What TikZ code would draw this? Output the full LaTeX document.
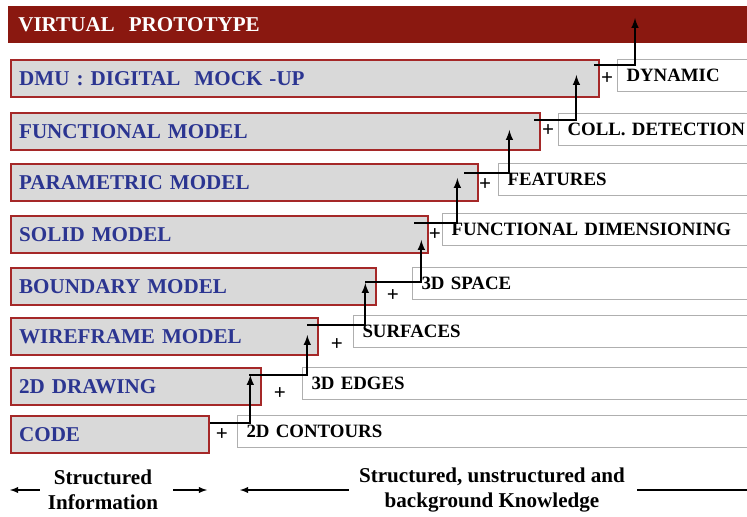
\documentclass[tikz,border=0pt]{standalone}
\usepackage{fontspec}
\setmainfont{Liberation Serif}
\usetikzlibrary{calc}
\definecolor{barred}{RGB}{138,24,16}
\definecolor{boxred}{RGB}{165,40,40}
\definecolor{boxgrey}{RGB}{217,217,217}
\definecolor{txtblue}{RGB}{43,53,145}
\definecolor{linegrey}{RGB}{175,175,175}
\begin{document}
\begin{tikzpicture}[x=0.025cm,y=-0.025cm,
    model/.style={draw=boxred,fill=boxgrey,line width=1.6pt,anchor=north west,
      minimum height=0.925cm,inner xsep=0.2cm,align=left,text width=#1,
      text=txtblue,font=\fontsize{15}{18}\selectfont\bfseries},
    extra/.style={draw=linegrey,fill=white,line width=1pt,anchor=north west,
      minimum height=0.8cm,inner xsep=0.22cm,align=left,text width=22cm,
      font=\fontsize{13.4}{16}\selectfont\bfseries},
    plus/.style={font=\fontsize{15}{18}\selectfont\bfseries},
    note/.style={align=center,inner sep=0pt,font=\fontsize{15}{18}\selectfont\bfseries}]
      \useasboundingbox (0,0) rectangle (747,517);
      \clip (0,0) rectangle (747,517);
      \path
        (8,6) node[anchor=north west,fill=barred,text=white,minimum height=0.925cm,
          inner xsep=0.25cm,align=left,text width=18.5cm,
          font=\fontsize{15}{18}\selectfont\bfseries] (vp){VIRTUAL~~PROTOTYPE}
        (10,59) node[model=14.3cm] (dmu){DMU : DIGITAL~ MOCK -UP}
        (10,112) node[model=12.825cm] (func){FUNCTIONAL MODEL}
        (10,163) node[model=11.275cm] (param){PARAMETRIC MODEL}
        (10,215) node[model=10.025cm] (solid){SOLID MODEL}
        (10,267) node[model=8.725cm] (bound){BOUNDARY MODEL}
        (10,317) node[model=7.275cm] (wire){WIREFRAME MODEL}
        (10,367) node[model=5.85cm] (drawing){2D DRAWING}
        (10,415) node[model=4.55cm] (code){CODE};
      \path
        (617,59) node[extra] (dyn){DYNAMIC}
        (558,113) node[extra] (coll){COLL. DETECTION}
        (498,163) node[extra] (feat){FEATURES}
        (442,213) node[extra] (fdim){FUNCTIONAL DIMENSIONING}
        (412,267) node[extra] (space){3D SPACE}
        (353,315) node[extra] (surf){SURFACES}
        (302,367) node[extra] (edges){3D EDGES}
        (237,415) node[extra] (contours){2D CONTOURS};
      \path
        (222,435) node[plus] (p1){+}
        (280,394) node[plus] (p2){+}
        (337,345) node[plus] (p3){+}
        (393,296) node[plus] (p4){+}
        (435,235) node[plus] (p5){+}
        (485,185) node[plus] (p6){+}
        (548,131) node[plus] (p7){+}
        (607,79) node[plus] (p8){+};
      \begin{scope}[->,>=latex,line width=1.4pt]
        \draw ($(code.north east)+(0,8)$) -| ($(drawing.north east)+(-12,8)$);
        \draw ($(drawing.north east)+(-13,8)$) -| ($(wire.north east)+(-12,18)$);
        \draw ($(wire.north east)+(-12,8)$) -| ($(bound.north east)+(-12,16)$);
        \draw ($(bound.north east)+(-12,15)$) -| ($(solid.north east)+(-8,25)$);
        \draw ($(solid.north east)+(-15,8)$) -| ($(param.north east)+(-22,15)$);
        \draw ($(param.north east)+(-15,10)$) -| ($(func.north east)+(-32,18)$);
        \draw ($(func.north east)+(-7,8)$) -| ($(dmu.north east)+(-24,16)$);
        \draw ($(dmu.north east)+(-6,6)$) -| ($(vp.north west)+(627,12)$);
      \end{scope}
      \path
        (103,490) node[note] (info){Structured\\Information}
        (492,490) node[note] (know){Structured, unstructured and\\background Knowledge};
      \coordinate (il) at (10,490);
      \coordinate (ir) at (207,490);
      \coordinate (kl) at (240,490);
      \coordinate (kr) at (765,490);
      \begin{scope}[->,>=latex,line width=1pt]
        \draw[shorten <=0.2cm] (info) to (il);
        \draw[shorten <=0.375cm] (info) to (ir);
        \draw[shorten <=0.25cm] (know) to (kl);
        \draw[shorten <=0.3cm] (know) to (kr);
      \end{scope}
    \end{tikzpicture}
\end{document}
